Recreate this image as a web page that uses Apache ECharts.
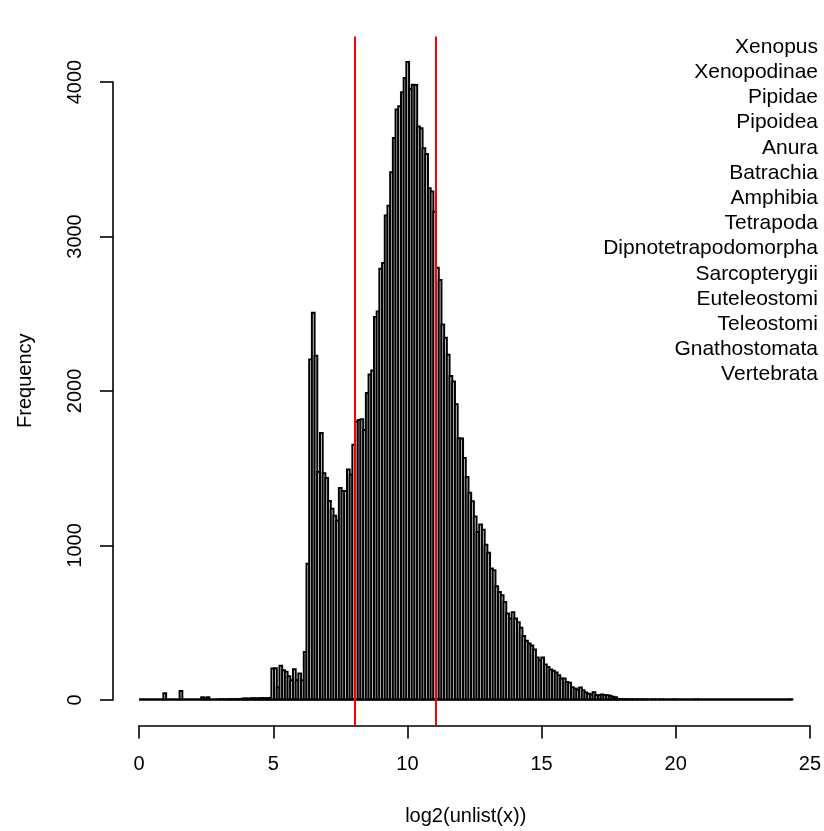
<!DOCTYPE html>
<html>
<head>
<meta charset="utf-8">
<script src="https://cdn.jsdelivr.net/npm/echarts@6/dist/echarts.min.js"></script>
<style>
html,body{margin:0;padding:0;background:#fff;}
#c{width:824px;height:831px;}
</style>
</head>
<body>
<div id="c"></div>
<script>
// ---- data ----
const binStart = 0;
const binWidth = 0.1;
const counts = [
  0,0,0,0,0,0,0,0,0,
  40,
  0,0,0,0,0,
  55,
  0,0,0,0,0,0,0,
  15,8,15,
  0,0,0,0,
  2,0,1,3,2,1,3,2,
  6,7,5,8,8,7,8,9,9,8,10,
  200,203,78,218,190,179,151,125,196,125,168,125,
  308,880,2203,2505,2227,1473,1726,1465,1435,1285,
  1236,1190,1160,1370,1350,1350,1490,1455,1650,1800,
  1810,1815,1745,1985,2105,2131,2477,2513,2790,2828,
  3135,3199,3415,3637,3821,3842,3933,4026,4130,3955,
  3982,3980,3711,3700,3570,3534,3311,3290,3160,2796,
  2718,2429,2343,2233,2095,2060,1913,1693,1690,1564,
  1441,1340,1284,1186,1085,1133,1100,1003,951,848,
  837,733,697,675,632,557,524,565,524,500,
  464,412,380,362,350,324,272,255,272,227,
  211,194,186,175,157,136,136,114,108,80,
  71,65,78,60,45,37,32,47,28,28,
  32,28,28,24,17,15,4,3,2,2,
  1,1,1,0,1,0,1,0,0,1,
  0,0,1,0,0,0,0,1,0,0,
  0,0,0,0,0,1,0,0,0,0,
  0,0,0,0,0,0,0,0,0,0,
  0,0,0,0,0,0,0,0,0,0,
  0,0,0,0,0,0,0,0,0,0,
  1
];
const redLines = [8, 11];
const xTickMin = 0, xTickMax = 25, xTickStep = 5;
const yTickMin = 0, yTickMax = 4000, yTickStep = 1000;
const taxa = ['Xenopus','Xenopodinae','Pipidae','Pipoidea','Anura','Batrachia','Amphibia',
  'Tetrapoda','Dipnotetrapodomorpha','Sarcopterygii','Euteleostomi','Teleostomi',
  'Gnathostomata','Vertebrata'];
const xLabel = 'log2(unlist(x))';
const yLabel = 'Frequency';

// ---- derived ----
const bins = counts.map((c, i) => [binStart + i * binWidth, binStart + (i + 1) * binWidth, c]);
const xLo = bins[0][0], xHi = bins[bins.length - 1][1];
const yMaxData = Math.max(...counts);
// R-style 4% range extension
const xMin = xLo - 0.04 * (xHi - xLo), xMax = xHi + 0.04 * (xHi - xLo);
const yMin = -0.04 * yMaxData, yMax = 1.04 * yMaxData;

// plot region (pixels)
const P = { left: 113, top: 36.4, width: 705.5, height: 689.1 };
const px = x => P.left + (x - xMin) / (xMax - xMin) * P.width;
const py = y => P.top + P.height - (y - yMin) / (yMax - yMin) * P.height;

const FONT = "'Liberation Sans', Arial, Helvetica, sans-serif";
const FS = 20;
const LW = 1.6;
const BAR_LW = 2;

const chart = echarts.init(document.getElementById('c'), null, { renderer: 'canvas' });

const option = {
  backgroundColor: '#fff',
  animation: false,
  textStyle: { fontFamily: FONT, color: '#000' },
  grid: [
    { left: P.left, top: P.top, width: P.width, height: P.height },
    { left: px(xTickMin), top: P.top, width: px(xTickMax) - px(xTickMin), height: P.height },
    { left: P.left, top: py(yTickMax), width: P.width, height: py(yTickMin) - py(yTickMax) }
  ],
  xAxis: [
    { gridIndex: 0, type: 'value', min: xMin, max: xMax,
      axisLine: { show: false }, axisTick: { show: false }, axisLabel: { show: false }, splitLine: { show: false },
      name: xLabel, nameLocation: 'middle', nameGap: 81,
      nameTextStyle: { fontSize: FS, fontFamily: FONT, color: '#000' } },
    { gridIndex: 1, type: 'value', min: xTickMin, max: xTickMax, interval: xTickStep,
      axisLine: { show: true, onZero: false, lineStyle: { color: '#000', width: LW } },
      axisTick: { show: true, length: 13, inside: false, lineStyle: { color: '#000', width: LW } },
      axisLabel: { show: true, fontSize: FS, fontFamily: FONT, color: '#000', margin: 29,
        formatter: v => String(v) },
      splitLine: { show: false } },
    { gridIndex: 2, type: 'value', show: false, min: xMin, max: xMax }
  ],
  yAxis: [
    { gridIndex: 0, type: 'value', min: yMin, max: yMax,
      axisLine: { show: false }, axisTick: { show: false }, axisLabel: { show: false }, splitLine: { show: false },
      name: yLabel, nameLocation: 'middle', nameGap: 78, nameRotate: 90,
      nameTextStyle: { fontSize: FS, fontFamily: FONT, color: '#000' } },
    { gridIndex: 1, type: 'value', show: false, min: yMin, max: yMax },
    { gridIndex: 2, type: 'value', min: yTickMin, max: yTickMax, interval: yTickStep,
      axisLine: { show: true, onZero: false, lineStyle: { color: '#000', width: LW } },
      axisTick: { show: true, length: 13, inside: false, lineStyle: { color: '#000', width: LW } },
      axisLabel: { show: true, rotate: 90, fontSize: FS, fontFamily: FONT, color: '#000', margin: 28,
        formatter: v => String(v) },
      splitLine: { show: false } }
  ],
  series: [
    {
      type: 'custom',
      xAxisIndex: 0, yAxisIndex: 0,
      data: bins,
      clip: false,
      renderItem: function (params, api) {
        const p0 = api.coord([api.value(0), api.value(2)]);
        const p1 = api.coord([api.value(1), 0]);
        return {
          type: 'rect',
          shape: { x: p0[0], y: p0[1], width: p1[0] - p0[0], height: p1[1] - p0[1] },
          style: { fill: '#fff', stroke: '#000', lineWidth: BAR_LW }
        };
      },
      encode: { x: [0, 1], y: 2 },
      silent: true
    },
    {
      type: 'line',
      xAxisIndex: 0, yAxisIndex: 0,
      data: [[xLo, 0], [xHi, 0]],
      symbol: 'none',
      lineStyle: { color: '#000', width: BAR_LW },
      silent: true,
      markLine: {
        silent: true,
        symbol: 'none',
        label: { show: false },
        lineStyle: { color: '#ff0000', width: 2, type: 'solid' },
        data: redLines.map(v => ({ xAxis: v }))
      }
    }
  ],
  graphic: taxa.map((t, i) => ({
    type: 'text',
    right: 6,
    top: 36.5 + i * 25.2,
    style: { text: t, font: '21px ' + FONT, fill: '#000', textAlign: 'right' },
    silent: true
  }))
};
chart.setOption(option);
</script>
</body>
</html>
